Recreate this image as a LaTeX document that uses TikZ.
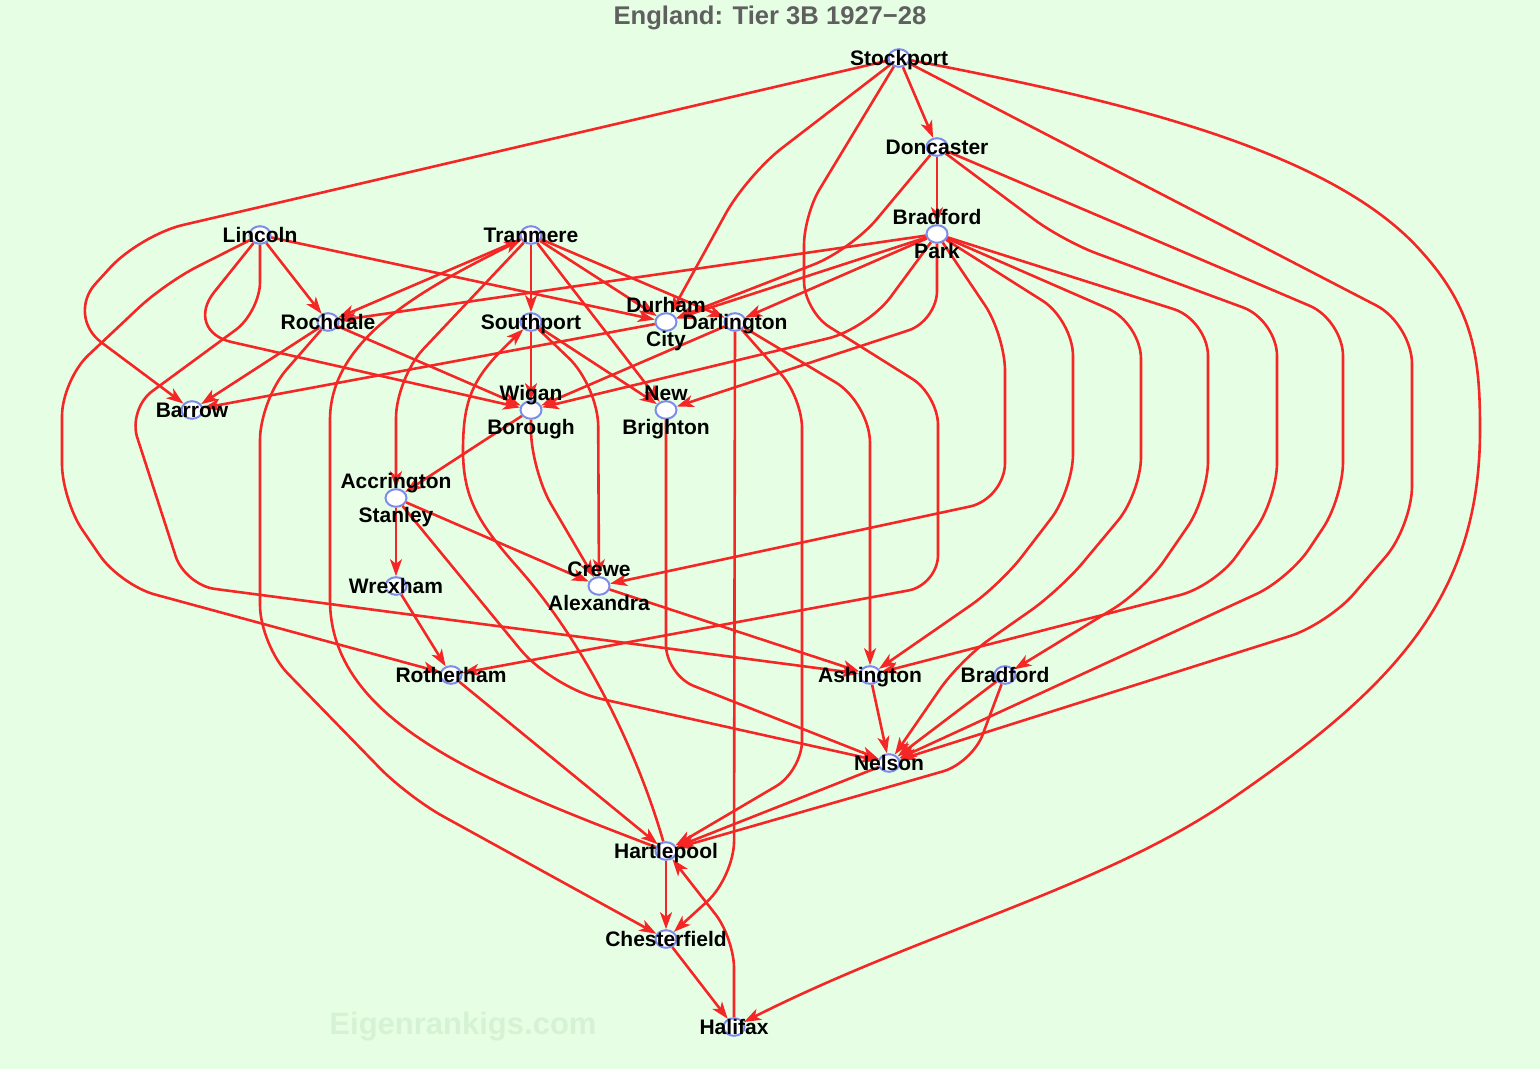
\documentclass[tikz,border=0pt]{standalone}
\usepackage{fontspec}
\setmainfont{Liberation Sans}
\usetikzlibrary{arrows.meta,shapes.geometric}
\definecolor{bgc}{RGB}{230,255,228}
\definecolor{edgec}{RGB}{245,38,38}
\definecolor{nodeb}{RGB}{125,140,235}
\definecolor{titleg}{RGB}{95,95,95}
\definecolor{wmark}{RGB}{214,242,212}
\tikzset{
 team/.style={ellipse, draw=nodeb, fill=white, line width=1pt, minimum width=10.5pt, minimum height=8.8pt, inner sep=0pt},
 labbase/.style={font=\bfseries\fontsize{10.5}{12}\selectfont, inner sep=0pt, anchor=base},
 onelab/.style={labbase, yshift=-3.8pt},
 uplab/.style={labbase, yshift=4.75pt},
 dnlab/.style={labbase, yshift=-12.25pt},
 rlink/.style={draw=edgec, line width=1.3pt, -{Stealth[length=8.5pt,width=6pt,inset=2.3pt]}},
}
\begin{document}
\begin{tikzpicture}[x=0.5pt,y=-0.5pt]
\fill[bgc] (0,0) rectangle (1540,1069);
\useasboundingbox (0,0) rectangle (1540,1069);
\node[font=\bfseries\fontsize{15.5}{18}\selectfont, text=wmark, anchor=base] (wm) at (463,1034) {Eigenrankigs.com};
\node[font=\bfseries\fontsize{12.8}{15}\selectfont, text=titleg, anchor=base] (title) at (770,25) {England: Tier 3B 1927−28};
% nodes
\node[team] (S) at (899,58) {};
\node[team] (Don) at (937,147) {};
\node[team] (BP) at (937,234) {};
\node[team] (Lin) at (260,235) {};
\node[team] (Tra) at (531,235) {};
\node[team] (Roc) at (328,322) {};
\node[team] (Sou) at (531,322) {};
\node[team] (Dur) at (666,322) {};
\node[team] (Dar) at (735,322) {};
\node[team] (Bar) at (192,410) {};
\node[team] (Wig) at (531,410) {};
\node[team] (NB) at (666,410) {};
\node[team] (Acc) at (396,498) {};
\node[team] (Wre) at (396,586) {};
\node[team] (Cre) at (599,586) {};
\node[team] (Rot) at (451,675) {};
\node[team] (Ash) at (870,675) {};
\node[team] (Bra) at (1005,675) {};
\node[team] (Nel) at (889,763) {};
\node[team] (Har) at (666,851) {};
\node[team] (Che) at (666,939) {};
\node[team] (Hal) at (734,1027) {};
% edges
\draw[rlink] (S) -- (Don);
\draw[rlink, rounded corners=22pt] (S) -- (140,235) -- (66,316) -- (Bar);
\draw[rlink, rounded corners=22pt] (S) -- (747,175) -- (Dur);
\draw[rlink, rounded corners=15pt] (S) -- (804,215) -- (804,311) -- (938,395) -- (938,585) -- (Rot);
\draw[rlink, rounded corners=20pt] (S) -- (1412,324) -- (1412,526) -- (1328,624) -- (Nel);
\draw[rlink] (S) .. controls (1120,100) and (1330,150) .. (1420,250) .. controls (1475,310) and (1480,360) .. (1480,430) .. controls (1480,600) and (1390,690) .. (1230,800) .. controls (1102,888) and (922,932) .. (Hal);
\draw[rlink] (Don) -- (BP);
\draw[rlink, rounded corners=20pt] (Don) -- (851,250) -- (Dur);
\draw[rlink, rounded corners=18pt] (Don) -- (1063,241) -- (1277,320) -- (1277,499) -- (1215,586) -- (Ash);
\draw[rlink, rounded corners=18pt] (Don) -- (1343,320) -- (1343,498) -- (1289,579) -- (Nel);
\draw[rlink] (BP) -- (Roc);
\draw[rlink] (BP) -- (Dur);
\draw[rlink] (BP) -- (Dar);
\draw[rlink, rounded corners=20pt] (BP) -- (867,329) -- (Wig);
\draw[rlink, rounded corners=15pt] (BP) -- (937,321) -- (NB);
\draw[rlink, rounded corners=18pt] (BP) -- (1005,335) -- (1005,499) -- (Cre);
\draw[rlink, rounded corners=18pt] (BP) -- (1073,320) -- (1073,490) -- (1000,585) -- (Ash);
\draw[rlink, rounded corners=18pt] (BP) -- (1141,323) -- (1141,493) -- (1060,590) -- (960,660) -- (Nel);
\draw[rlink, rounded corners=18pt] (BP) -- (1208,320) -- (1208,497) -- (1144,590) -- (Bra);
\draw[rlink] (Lin) -- (Roc);
\draw[rlink] (Lin) -- (Dur);
\draw[rlink, rounded corners=25pt] (Lin) -- (183,331) -- (Wig);
\draw[rlink, rounded corners=18pt] (Lin) -- (165,283) -- (62,380) -- (62,500) -- (120,585) -- (Rot);
\draw[rlink, rounded corners=15pt] (Lin) -- (260,312) -- (128,409) -- (185,585) -- (Ash);
\draw[rlink] (Tra) -- (Roc);
\draw[rlink] (Tra) -- (Sou);
\draw[rlink] (Tra) -- (Dur);
\draw[rlink] (Tra) -- (Dar);
\draw[rlink] (Tra) -- (NB);
\draw[rlink, rounded corners=20pt] (Tra) -- (396,378) -- (Acc);
\draw[rlink] (Roc) -- (Bar);
\draw[rlink] (Roc) -- (Wig);
\draw[rlink, rounded corners=20pt] (Roc) -- (260,400) -- (260,645) -- (408,797) -- (Che);
\draw[rlink] (Sou) -- (Wig);
\draw[rlink] (Sou) -- (NB);
\draw[rlink, rounded corners=20pt] (Sou) -- (598,386) -- (Cre);
\draw[rlink] (Dur) -- (Bar);
\draw[rlink] (Dar) -- (Wig);
\draw[rlink, rounded corners=20pt] (Dar) -- (870,403) -- (Ash);
\draw[rlink, rounded corners=15pt] (Dar) -- (802,398) -- (802,771) -- (Har);
\draw[rlink, rounded corners=18pt] (Dar) -- (734,877) -- (Che);
\draw[rlink] (Wig) -- (Acc);
\draw[rlink, rounded corners=20pt] (Wig) -- (531,470) -- (Cre);
\draw[rlink, rounded corners=15pt] (NB) -- (666,675) -- (Nel);
\draw[rlink] (Acc) -- (Wre);
\draw[rlink] (Acc) -- (Cre);
\draw[rlink, rounded corners=25pt] (Acc) -- (552,688) -- (Nel);
\draw[rlink] (Wre) -- (Rot);
\draw[rlink] (Cre) -- (Ash);
\draw[rlink] (Rot) -- (Har);
\draw[rlink] (Ash) -- (Nel);
\draw[rlink] (Bra) -- (Nel);
\draw[rlink, rounded corners=15pt] (Bra) -- (972,763) -- (Har);
\draw[rlink] (Nel) -- (Har);
\draw[rlink] (Har) -- (Che);
\draw[rlink] (Har) .. controls (480,780) and (330,720) .. (330,600) -- (330,420) .. controls (330,340) and (420,290) .. (Tra);
\draw[rlink] (Har) .. controls (640,760) and (590,650) .. (520,570) .. controls (480,525) and (463,500) .. (463,450) .. controls (463,395) and (475,375) .. (Sou);
\draw[rlink] (Che) -- (Hal);
\draw[rlink, rounded corners=15pt] (Hal) -- (734,938) -- (Har);
% labels
\node[onelab] (S-l) at (S) {Stockport};
\node[onelab] (Don-l) at (Don) {Doncaster};
\node[uplab] (BP-a) at (BP) {Bradford};
\node[dnlab] (BP-b) at (BP) {Park};
\node[onelab] (Lin-l) at (Lin) {Lincoln};
\node[onelab] (Tra-l) at (Tra) {Tranmere};
\node[onelab] (Roc-l) at (Roc) {Rochdale};
\node[onelab] (Sou-l) at (Sou) {Southport};
\node[uplab] (Dur-a) at (Dur) {Durham};
\node[dnlab] (Dur-b) at (Dur) {City};
\node[onelab] (Dar-l) at (Dar) {Darlington};
\node[onelab] (Bar-l) at (Bar) {Barrow};
\node[uplab] (Wig-a) at (Wig) {Wigan};
\node[dnlab] (Wig-b) at (Wig) {Borough};
\node[uplab] (NB-a) at (NB) {New};
\node[dnlab] (NB-b) at (NB) {Brighton};
\node[uplab] (Acc-a) at (Acc) {Accrington};
\node[dnlab] (Acc-b) at (Acc) {Stanley};
\node[onelab] (Wre-l) at (Wre) {Wrexham};
\node[uplab] (Cre-a) at (Cre) {Crewe};
\node[dnlab] (Cre-b) at (Cre) {Alexandra};
\node[onelab] (Rot-l) at (Rot) {Rotherham};
\node[onelab] (Ash-l) at (Ash) {Ashington};
\node[onelab] (Bra-l) at (Bra) {Bradford};
\node[onelab] (Nel-l) at (Nel) {Nelson};
\node[onelab] (Har-l) at (Har) {Hartlepool};
\node[onelab] (Che-l) at (Che) {Chesterfield};
\node[onelab] (Hal-l) at (Hal) {Halifax};
\end{tikzpicture}
\end{document}
